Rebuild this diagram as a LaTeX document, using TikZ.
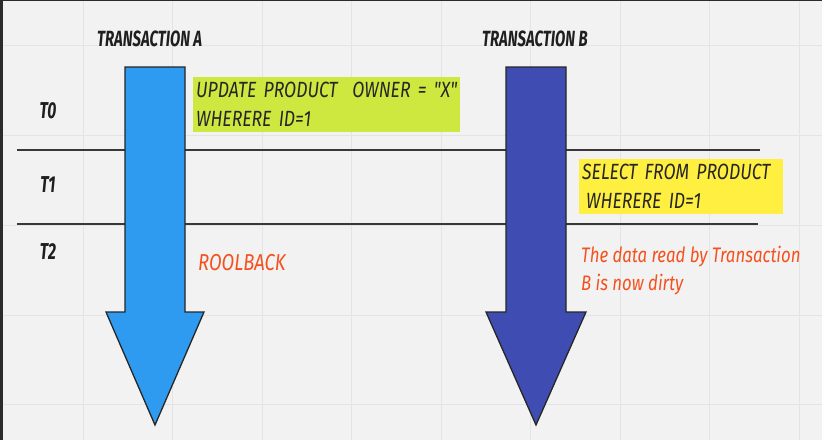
\documentclass[tikz,border=0pt]{standalone}
\usepackage{fontspec}
\usetikzlibrary{positioning}
\usetikzlibrary{calc}

\newfontfamily\headfont[FakeStretch=0.68]{Fira Sans}
\newfontfamily\handfont[FakeStretch=0.8]{Fira Sans}

\definecolor{boardbg}{HTML}{F2F2F2}
\definecolor{boardgrid}{HTML}{E4E4E4}
\definecolor{boardedge}{HTML}{2B2B2B}
\definecolor{flowA}{HTML}{2E9BF0}
\definecolor{flowB}{HTML}{3F4DB3}
\definecolor{limenote}{HTML}{CEE840}
\definecolor{yellownote}{HTML}{FFEF40}
\definecolor{remred}{HTML}{F4511E}

\begin{document}
\begin{tikzpicture}
	[x=1pt,y=-1pt,
	gridline/.style={draw=boardgrid,line width=1pt},
	tline/.style={draw=black!78,line width=1.4pt},
	flow/.style={draw=black!85,line width=1.3pt,line join=miter},
	header/.style={font=\headfont\fontsize{22}{22}\selectfont\bfseries\itshape,text=black!88,inner sep=0pt},
	slot/.style={font=\headfont\fontsize{23}{23}\selectfont\bfseries\itshape,text=black!88,inner sep=0pt},
	notebox/.style={font=\handfont\fontsize{22}{29}\selectfont\itshape,text=black!85,inner sep=3pt,align=left},
	remark/.style={font=\handfont\fontsize{21}{28}\selectfont\itshape,text=remred,inner sep=0pt,align=left}]

	\useasboundingbox (0,0) rectangle (822,440);

	% Draw the board with its grid
	\fill[boardbg] (0,0) rectangle (822,440);
	\foreach \gx in {83,172.5,262,351.5,441,530.5,620,709.5,799}
		\draw[gridline] (\gx,0) -- (\gx,440);
	\foreach \gy in {45,135,225,315,404}
		\draw[gridline] (0,\gy) -- (822,\gy);
	\fill[boardedge] (0,0) rectangle (3,440);
	\fill[boardedge] (0,0) rectangle (822,1.2);

	% Draw the time slot lines
	\draw[tline] (17,150) -- (760,150);
	\draw[tline] (17,224) -- (758,224);

	% Draw the transaction arrows
	\draw[flow,fill=flowA] (125,67) -- (185,67) -- (185,312) -- (204,312) -- (155,425)
		-- (106,312) -- (125,312) -- cycle;
	\draw[flow,fill=flowB] (506,67) -- (566,67) -- (566,312) -- (586,312) -- (536,425)
		-- (486,312) -- (506,312) -- cycle;

	% Draw the headers and time slots
	\draw node at (97,46) [header,anchor=base west](headA){TRANSACTION A}
		node at (482,46) [header,anchor=base west](headB){TRANSACTION B}
		node at (48,111) [slot](slot0){T0}
		node at (48,185) [slot](slot1){T1}
		node at (48,252) [slot](slot2){T2};

	% Draw the statements
	\node[notebox,fill=limenote,anchor=north west,text width=261pt,minimum height=55pt]
		(update) at (193,77) {UPDATE PRODUCT~~OWNER = "X"\\WHERERE ID=1};
	\node[notebox,fill=yellownote,anchor=north west,text width=198pt,minimum height=55pt]
		(select) at (579,159) {SELECT FROM PRODUCT\\\hspace*{4pt}WHERERE ID=1};

	% Draw the remarks
	\node[remark,anchor=base west,font=\handfont\fontsize{23}{23}\selectfont\itshape] (rollback) at (198,270) {ROOLBACK};
	\node[remark,anchor=north west] (dirty) at (581,246) {The data read by Transaction\\B is now dirty};
\end{tikzpicture}
\end{document}
